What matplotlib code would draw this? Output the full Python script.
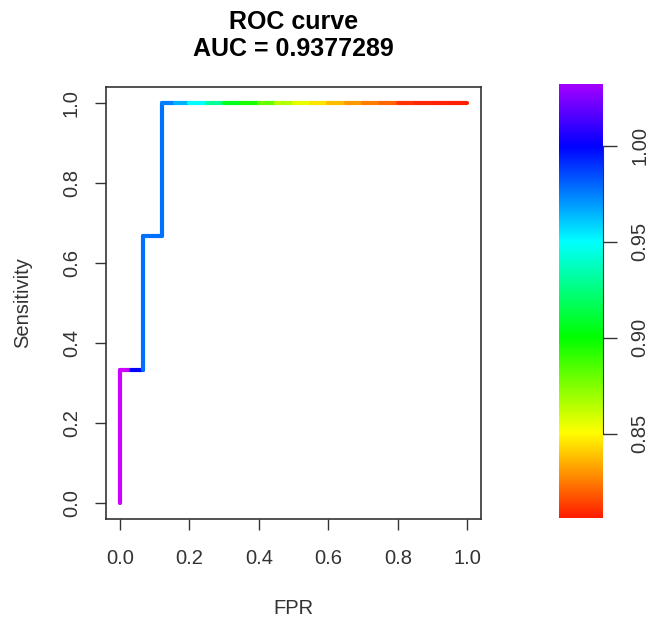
import numpy as np
import matplotlib
matplotlib.use("Agg")
import matplotlib.pyplot as plt
from matplotlib.collections import LineCollection
from matplotlib.colors import ListedColormap, Normalize, hsv_to_rgb

plt.rcParams['font.family'] = ['Liberation Sans', 'DejaVu Sans']

# puntos de la curva ROC (FPR, sensibilidad) y el punto de corte en cada uno
fpr = [0.0, 0.0, 0.033, 0.066, 0.066, 0.121, 0.121, 0.16, 0.2, 0.25, 0.3, 0.35,
       0.4, 0.45, 0.5, 0.55, 0.6, 0.65, 0.7, 0.75, 0.8, 0.85, 0.9, 0.95, 1.0]
tpr = [0.0, 0.333, 0.333, 0.333, 0.667, 0.667, 1.0, 1.0, 1.0, 1.0, 1.0, 1.0,
       1.0, 1.0, 1.0, 1.0, 1.0, 1.0, 1.0, 1.0, 1.0, 1.0, 1.0, 1.0, 1.0]
cutoff = [1.04, 1.04, 1.0, 0.978, 0.978, 0.978, 0.975, 0.965, 0.95, 0.93, 0.905,
          0.895, 0.88, 0.865, 0.855, 0.845, 0.837, 0.83, 0.825, 0.82, 0.81,
          0.808, 0.807, 0.806, 0.806]
auc = 0.9377289
cb_min, cb_max = 0.806, 1.032
cb_ticks = [0.85, 0.90, 0.95, 1.00]

# paleta arcoiris: el tono sube 1/6 cada 0.05 (rojo en 0.80)
hues = np.linspace(0, 1, 512)
cmap = ListedColormap(hsv_to_rgb(np.column_stack([hues, np.ones(512), np.ones(512)])))
norm = Normalize(vmin=0.8, vmax=1.1)

fig = plt.figure(figsize=(6.53, 6.19), dpi=100)
ax = fig.add_axes([0.162, 0.162, 0.575, 0.697])

pts = np.column_stack([fpr, tpr])
segs = np.stack([pts[:-1], pts[1:]], axis=1)
lc = LineCollection(segs, colors=cmap(norm(np.array(cutoff[:-1]))),
                    linewidths=3.0, capstyle='round', joinstyle='round')
ax.add_collection(lc)

ax.set_xlim(-0.04, 1.04)
ax.set_ylim(-0.04, 1.04)
ticks = [0.0, 0.2, 0.4, 0.6, 0.8, 1.0]
ax.set_xticks(ticks)
ax.set_yticks(ticks)
ax.set_xticklabels([f"{t:.1f}" for t in ticks])
ax.set_yticklabels([f"{t:.1f}" for t in ticks], rotation=90, va='center')
ax.tick_params(direction='out', length=8, width=1, colors='#333333',
               labelsize=14.5)
ax.tick_params(axis='x', pad=14)
ax.tick_params(axis='y', pad=10)
for s in ax.spines.values():
    s.set_color('#333333')
    s.set_linewidth(1.2)
ax.set_xlabel('FPR', fontsize=14.5, color='#333333')
ax.set_ylabel('Sensitivity', fontsize=14.5, color='#333333')
ax.xaxis.set_label_coords(0.5, -0.185)
ax.yaxis.set_label_coords(-0.197, 0.5)
fig.text(0.449, 0.965, 'ROC curve', ha='center', va='center',
         fontsize=18, fontweight='bold')
fig.text(0.449, 0.921, f'AUC = {auc}', ha='center', va='center',
         fontsize=18, fontweight='bold')

# barra de colores
cax = fig.add_axes([0.856, 0.163, 0.067, 0.701])
grad = np.linspace(cb_min, cb_max, 256).reshape(-1, 1)
cax.imshow(grad, cmap=cmap, norm=norm, aspect='auto', origin='lower',
           extent=[0, 1, cb_min, cb_max])
cax.set_xlim(0, 1)
cax.set_ylim(cb_min, cb_max)
cax.set_xticks([])
for side in ['top', 'bottom', 'left']:
    cax.spines[side].set_visible(False)
cax.spines['right'].set_bounds(0.85, 1.00)
cax.spines['right'].set_color('#333333')
cax.yaxis.tick_right()
cax.set_yticks(cb_ticks)
cax.set_yticklabels([f"{t:.2f}" for t in cb_ticks], rotation=90, va='center')
cax.tick_params(axis='y', direction='out', length=10, width=1,
                colors='#333333', labelsize=14.5, pad=10)

fig.savefig('out.png', dpi=100)
